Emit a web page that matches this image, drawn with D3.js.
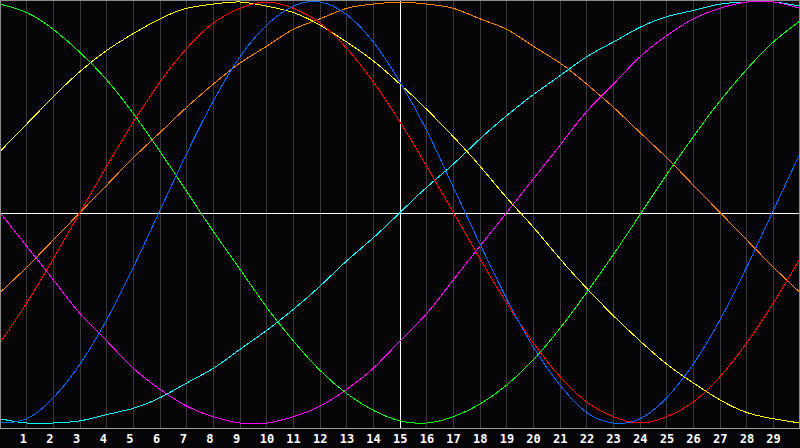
<!DOCTYPE html>
<html>
<head>
<meta charset="utf-8">
<script src="https://cdn.jsdelivr.net/npm/d3@7"></script>
<style>
body { margin: 0; background: #050508; }
svg { display: block; }
</style>
</head>
<body>
<div id="chart"></div>
<script>
// day numbers shown under the grid
var dayLabels = [1,2,3,4,5,6,7,8,9,10,11,12,13,14,15,16,17,18,19,20,21,22,23,24,25,26,27,28,29];
// sample days for the curves (0..30)
var days = d3.range(0, 31);

// cycle values in percent (-100..100) for each day
var physical     = [-100,-98,-88,-72,-51,-26,1,28,53,74,89,98,100,94,81,62,39,12,-15,-41,-64,-82,-95,-100,-98,-88,-72,-51,-26,1,28];
var emotional    = [-62,-43,-22,0,22,43,62,78,90,97,100,97,90,78,62,43,22,0,-22,-43,-62,-78,-90,-97,-100,-97,-90,-78,-62,-43,-22];
var intellectual = [99,95,87,76,63,47,29,10,-9,-27,-45,-61,-75,-86,-94,-99,-100,-97,-91,-82,-70,-55,-38,-20,-1,18,36,53,68,81,91];
var intuitive    = [0,-16,-32,-48,-61,-74,-84,-92,-97,-100,-100,-97,-92,-84,-74,-61,-48,-32,-16,0,16,32,48,61,74,84,92,97,100,100,97];
var aesthetic    = [29,42,55,67,77,85,92,97,99,100,98,95,89,81,72,61,49,36,22,7,-7,-22,-36,-49,-61,-72,-81,-89,-95,-98,-100];
var awareness    = [-38,-26,-13,0,13,26,38,50,61,71,79,87,92,97,99,100,99,97,92,87,79,71,61,50,38,26,13,0,-13,-26,-38];
var spiritual    = [-98,-100,-100,-99,-96,-93,-88,-81,-74,-65,-56,-46,-35,-23,-12,0,12,23,35,46,56,65,74,81,88,93,96,99,100,100,98];

var seriesNames = ["awareness","spiritual","intuitive","aesthetic","intellectual","emotional","physical"];
var seriesValues = {physical: physical, emotional: emotional, intellectual: intellectual,
    intuitive: intuitive, aesthetic: aesthetic, awareness: awareness, spiritual: spiritual};
var colors = {physical: "#0066ff", emotional: "#ff0000", intellectual: "#00ff00",
    intuitive: "#ff00ff", aesthetic: "#ffff00", awareness: "#ff8000", spiritual: "#00ffff"};

var width = 800, height = 448;
var plotBottom = 428;
var today = 15;

var x = d3.scaleLinear().domain([0, 30]).range([0, 800]);
var y = d3.scaleLinear().domain([-100, 100]).range([423, 2]);

function px(v) { return Math.floor(v) + 0.5; }

var svg = d3.select("#chart").append("svg")
    .attr("width", width)
    .attr("height", height);

svg.append("rect").attr("width", width).attr("height", height).attr("fill", "#050508");

// vertical day grid
svg.append("g").selectAll("line")
    .data(dayLabels.filter(function(d){ return d != today; }))
    .enter().append("line")
    .attr("x1", function(d){ return px(x(d)); })
    .attr("x2", function(d){ return px(x(d)); })
    .attr("y1", 0).attr("y2", plotBottom)
    .attr("stroke", "#3a3a3a")
    .attr("shape-rendering", "crispEdges");

// zero line and today line
svg.append("line")
    .attr("x1", 0).attr("x2", width)
    .attr("y1", px(y(0)) + 1).attr("y2", px(y(0)) + 1)
    .attr("stroke", "#ffffff").attr("shape-rendering", "crispEdges");
svg.append("line")
    .attr("x1", px(x(today))).attr("x2", px(x(today)))
    .attr("y1", 0).attr("y2", plotBottom)
    .attr("stroke", "#ffffff").attr("shape-rendering", "crispEdges");

var line = d3.line()
    .x(function(d, i){ return x(days[i]); })
    .y(function(d){ return y(d); })
    .curve(d3.curveNatural);

var plot = svg.append("g");
plot.selectAll("path")
    .data(seriesNames)
    .enter().append("path")
    .attr("d", function(s){ return line(seriesValues[s]); })
    .attr("fill", "none")
    .attr("stroke", function(s){ return colors[s]; })
    .attr("stroke-width", 1)
    .attr("shape-rendering", "crispEdges");

// frame
svg.append("path")
    .attr("d", "M0.5," + plotBottom + "V0.5H799.5V" + plotBottom)
    .attr("fill", "none")
    .attr("stroke", "#8c8c8c")
    .attr("shape-rendering", "crispEdges");
svg.append("line")
    .attr("x1", 0).attr("x2", width)
    .attr("y1", plotBottom + 0.5).attr("y2", plotBottom + 0.5)
    .attr("stroke", "#a0a0a0")
    .attr("shape-rendering", "crispEdges");

svg.append("g").selectAll("text")
    .data(dayLabels)
    .enter().append("text")
    .attr("x", function(d){ return x(d) - 7; })
    .attr("y", 443)
    .attr("fill", "#ffffff")
    .style("font-family", "'DejaVu Sans Mono', monospace")
    .style("font-weight", "bold")
    .style("font-size", "12px")
    .text(function(d){ return d; });
</script>
</body>
</html>
